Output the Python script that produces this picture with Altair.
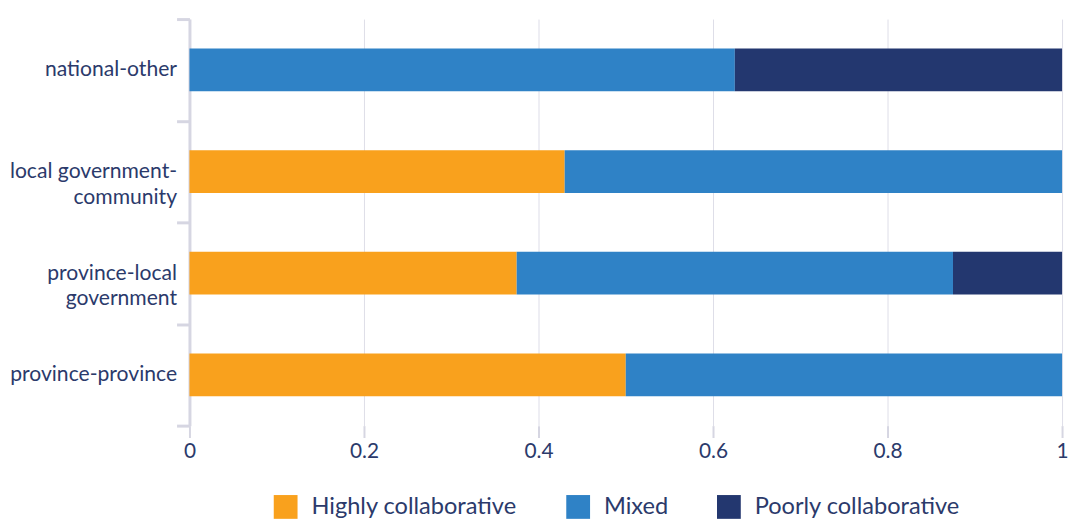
import altair as alt
import pandas as pd

categories = ["national-other", "local government-community", "province-local government", "province-province"]
series = ["Highly collaborative", "Mixed", "Poorly collaborative"]
highly = [0.0, 0.43, 0.375, 0.5]
mixed = [0.625, 0.57, 0.5, 0.5]
poorly = [0.375, 0.0, 0.125, 0.0]
colors = ["#F9A11D", "#2F82C6", "#23376F"]

rows = []
for i, c in enumerate(categories):
    for j, (s, vals) in enumerate(zip(series, [highly, mixed, poorly])):
        rows.append({"category": c, "series": s, "value": vals[i], "order": j})
df = pd.DataFrame(rows)

text_color = "#2B3A6B"
font = "Lato"

label_expr = ("datum.label == 'local government-community' ? ['local government-', 'community'] : "
              "datum.label == 'province-local government' ? ['province-local', 'government'] : datum.label")

chart = alt.Chart(df).mark_bar(height={"band": 0.42}).encode(
    x=alt.X("value:Q", stack="zero",
            scale=alt.Scale(domain=[0, 1], nice=False),
            axis=alt.Axis(title=None, values=[0, 0.2, 0.4, 0.6, 0.8, 1], format=".1~f",
                          domain=False, ticks=True, tickSize=12, tickColor="#D6D6E2", tickWidth=2,
                          grid=True, gridColor="#DEDEE8", gridWidth=1, labelFlush=False,
                          labelFontSize=21, labelColor=text_color, labelFont=font, labelPadding=3)),
    y=alt.Y("category:N", sort=categories,
            scale=alt.Scale(paddingInner=0, paddingOuter=0),
            axis=alt.Axis(title=None, domain=True, domainColor="#D6D6E2", domainWidth=3,
                          ticks=True, tickBand="extent", tickSize=13, tickColor="#D6D6E2", tickWidth=3,
                          labelFontSize=21.3, labelColor=text_color, labelFont=font, labelPadding=0,
                          labelLimit=300, labelExpr=label_expr, labelLineHeight=26)),
    color=alt.Color("series:N", sort=series,
                    scale=alt.Scale(domain=series, range=colors),
                    legend=alt.Legend(title=None, orient="none", direction="horizontal",
                                      legendX=85, legendY=480,
                                      symbolType="square", symbolSize=576, symbolStrokeWidth=0,
                                      symbolOpacity=1, labelLimit=400,
                                      labelFontSize=23.8, labelColor=text_color, labelFont=font,
                                      labelOffset=14, columnPadding=49)),
    order=alt.Order("order:Q"),
).properties(width=880, height=410,
             padding={"left": 1, "top": -2, "right": 0, "bottom": 0}).configure_view(stroke=None)

chart.save("out.html", embed_options={"renderer": "svg", "actions": False})
